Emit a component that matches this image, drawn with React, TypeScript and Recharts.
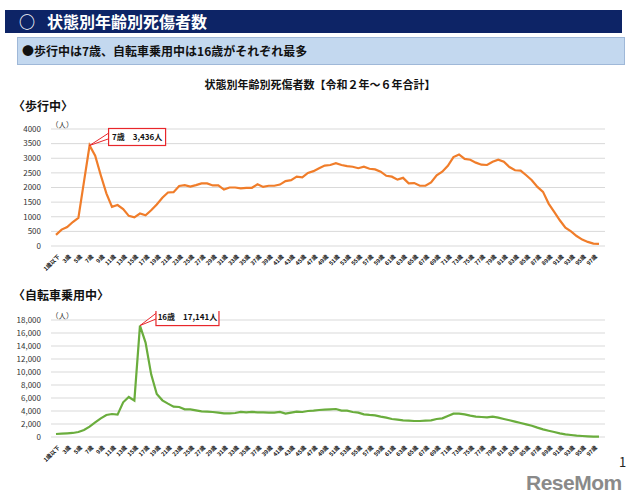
import { CartesianGrid, Line, LineChart, ReferenceDot, XAxis, YAxis } from 'recharts'

const FONT = '"Noto Sans CJK JP", "Noto Sans", sans-serif'

const AGES = ['1歳以下', ...Array.from({ length: 97 }, (_, i) => `${i + 2}歳`)]

const WALKING = [
    380, 560, 650, 820, 960, 2200, 3436, 3086, 2420, 1800,
    1340, 1400, 1260, 1030, 980, 1110, 1050, 1220, 1420, 1650,
    1830, 1840, 2050, 2080, 2030, 2080, 2140, 2140, 2070, 2070,
    1930, 2000, 2000, 1970, 1990, 1990, 2110, 2020, 2060, 2060,
    2100, 2220, 2250, 2370, 2350, 2500, 2560, 2660, 2750, 2770,
    2830, 2770, 2730, 2710, 2660, 2710, 2640, 2620, 2540, 2400,
    2370, 2270, 2330, 2140, 2150, 2060, 2060, 2170, 2420, 2540,
    2740, 3040, 3130, 2980, 2950, 2850, 2780, 2770, 2880, 2950,
    2880, 2700, 2590, 2580, 2420, 2250, 2020, 1850, 1450, 1170,
    880, 630, 500, 340, 220, 140, 80, 70,
]

const CYCLING = [
    460, 510, 560, 620, 770, 1080, 1590, 2260, 2870, 3390,
    3540, 3440, 5340, 6160, 5590, 17141, 14520, 9640, 6620, 5640,
    5130, 4670, 4620, 4260, 4260, 4100, 3950, 3900, 3850, 3750,
    3640, 3640, 3690, 3850, 3800, 3850, 3800, 3800, 3750, 3750,
    3850, 3590, 3750, 3900, 3850, 4000, 4050, 4150, 4200, 4260,
    4310, 4050, 4050, 3850, 3750, 3490, 3390, 3330, 3130, 2980,
    2770, 2670, 2570, 2510, 2460, 2460, 2510, 2570, 2770, 2870,
    3230, 3590, 3590, 3490, 3280, 3130, 3080, 3030, 3130, 2980,
    2770, 2570, 2360, 2150, 1950, 1740, 1440, 1180, 970, 770,
    560, 410, 310, 200, 150, 100, 60, 50,
]

const WALK_TICKS = [0, 500, 1000, 1500, 2000, 2500, 3000, 3500, 4000]
const CYCLE_TICKS = [0, 2000, 4000, 6000, 8000, 10000, 12000, 14000, 16000, 18000]

function peakOf(values: number[]) {
    const idx = values.indexOf(Math.max(...values))
    return { age: AGES[idx], value: values[idx] }
}

function AgeTick({ x, y, payload }: any) {
    return (
        <g transform={`translate(${x + 2},${y + 1})`}>
            <text transform="rotate(-45)" textAnchor="end" dy={3} fontSize={5.6} fontWeight={700} fill="#111" fontFamily={FONT}>
                {payload.value}
            </text>
        </g>
    )
}

function Callout({ cx, cy, text, width, gap }: any) {
    const left = cx + gap
    const top = cy - 17
    return (
        <g>
            <polygon points={`${cx},${cy} ${left + 1},${top + 4} ${left + 1},${top + 10}`} fill="#fff" stroke="#e8262b" strokeWidth={1} />
            <rect x={left} y={top} width={width} height={17} fill="#fff" stroke="#e8262b" strokeWidth={1.2} />
            <text x={left + width / 2} y={top + 11.5} textAnchor="middle" fontSize={8} fontWeight={700} fill="#111" fontFamily={FONT}>
                {text}
            </text>
        </g>
    )
}

function AgeChart({ values, ticks, color, top, fmt, calloutWidth, calloutGap }: any) {
    const data = AGES.map((age, i) => ({ age, value: values[i] }))
    const peak = peakOf(values)
    return (
        <div style={{ position: 'absolute', left: 0, top }}>
            <LineChart width={640} height={170} data={data} margin={{ top: 9, right: 35, left: 0, bottom: 0 }}>
                <CartesianGrid stroke="#d9d9d9" vertical={false} />
                <XAxis
                    dataKey="age"
                    interval={1}
                    tick={<AgeTick />}
                    tickLine={false}
                    axisLine={false}
                    height={44}
                    padding={{ left: 5, right: 6 }}
                />
                <YAxis
                    width={51}
                    domain={[ticks[0], ticks[ticks.length - 1]]}
                    ticks={ticks}
                    interval={0}
                    tickFormatter={fmt}
                    tickLine={false}
                    axisLine={false}
                    tick={{ fontSize: 8, fill: '#333', fontFamily: FONT }}
                    tickMargin={4}
                />
                <Line type="linear" dataKey="value" stroke={color} strokeWidth={2.2} dot={false} isAnimationActive={false} />
                <ReferenceDot
                    x={peak.age}
                    y={peak.value}
                    r={0}
                    ifOverflow="visible"
                    shape={(p: any) => (
                        <Callout cx={p.cx} cy={p.cy} width={calloutWidth} gap={calloutGap} text={`${peak.age}　${peak.value.toLocaleString('en-US')}人`} />
                    )}
                />
            </LineChart>
        </div>
    )
}

export default function App() {
    return (
        <div style={{ position: 'absolute', left: 0, top: 0, width: 640, height: 504, background: '#fff', fontFamily: FONT, overflow: 'hidden' }}>
            <div style={{ position: 'absolute', left: 5, top: 10, width: 617, height: 23, background: '#0d2466', color: '#fff', fontWeight: 700, fontSize: 16, lineHeight: '23px' }}>
                <span style={{ position: 'absolute', left: 14 }}>○</span>
                <span style={{ position: 'absolute', left: 42 }}>状態別年齢別死傷者数</span>
            </div>
            <div style={{ position: 'absolute', left: 17, top: 37, width: 608, height: 28, background: '#c3d8ef', border: '1px solid #9fb8d8', boxSizing: 'border-box', fontWeight: 700, fontSize: 12, lineHeight: '26px', paddingLeft: 4, color: '#111' }}>
                ●歩行中は7歳、自転車乗用中は16歳がそれぞれ最多
            </div>
            <div style={{ position: 'absolute', left: 0, width: 640, top: 76, textAlign: 'center', fontWeight: 700, fontSize: 11, color: '#111' }}>
                状態別年齢別死傷者数【令和２年～６年合計】
            </div>
            <div style={{ position: 'absolute', left: 13, top: 97, fontWeight: 700, fontSize: 12, color: '#111' }}>〈歩行中〉</div>
            <div style={{ position: 'absolute', left: 51, top: 119, fontSize: 7.5, color: '#333' }}>（人）</div>
            <AgeChart values={WALKING} ticks={WALK_TICKS} color="#f07d2a" top={120} fmt={(v: number) => String(v)} calloutWidth={57} calloutGap={19} />
            <div style={{ position: 'absolute', left: 13, top: 286, fontWeight: 700, fontSize: 12, color: '#111' }}>〈自転車乗用中〉</div>
            <div style={{ position: 'absolute', left: 51, top: 310, fontSize: 7.5, color: '#333' }}>（人）</div>
            <AgeChart values={CYCLING} ticks={CYCLE_TICKS} color="#6aad3d" top={311} fmt={(v: number) => v.toLocaleString('en-US')} calloutWidth={63} calloutGap={16} />
            <div style={{ position: 'absolute', left: 619, top: 455, fontSize: 13, lineHeight: '13px', color: '#222' }}>1</div>
            <div style={{ position: 'absolute', left: 526, top: 472, fontSize: 21, lineHeight: '21px', fontWeight: 700, color: '#8a8a8a', fontFamily: '"Liberation Sans", Arial, sans-serif', letterSpacing: -0.5 }}>ReseMom</div>
        </div>
    )
}
